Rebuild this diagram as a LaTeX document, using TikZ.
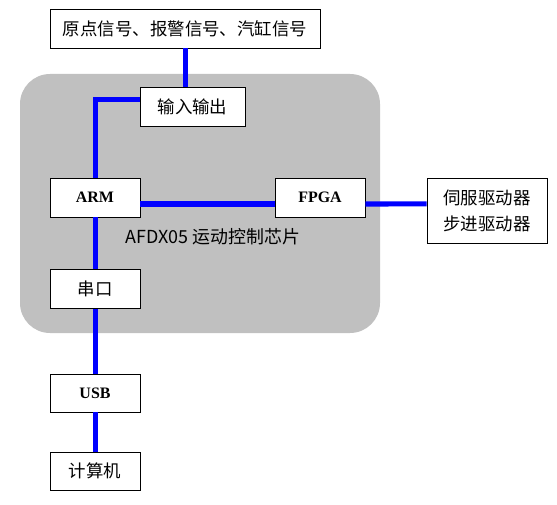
\documentclass[tikz,border=0pt]{standalone}
\usepackage{fontspec}
\setmainfont{Liberation Serif}
\newfontfamily\cjk{Noto Sans CJK SC}
\definecolor{chipgray}{RGB}{192,192,192}
\begin{document}
\begin{tikzpicture}[x=1bp,y=-1bp,main_node/.style={rectangle,draw=black,fill=white,line width=0.8bp,minimum width=90bp,minimum height=39bp,inner sep=2pt,font=\cjk\fontsize{17.5}{26}\selectfont},chip_node/.style={main_node,font=\bfseries\fontsize{16}{18}\selectfont},bus/.style={draw=blue,line width=5bp}]
		
		\useasboundingbox (0,0) rectangle (557,505);
		\fill[chipgray,rounded corners=30bp] (20,74) rectangle (380,333);
		
		\node[main_node,minimum width=270bp] (sig) at (185,28.5) {原点信号、报警信号、汽缸信号};
		\node[main_node,minimum width=105bp] (io) at (192.5,106.5) {输入输出};
		\node[chip_node] (arm) at (95,197.5) {ARM};
		\node[chip_node] (fpga) at (320,197.5) {FPGA};
		\node[main_node,minimum width=120bp,minimum height=65bp,align=center] (drv) at (487,210.5) {伺服驱动器\\步进驱动器};
		\node[main_node] (com) at (95,289) {串口};
		\node[chip_node,minimum height=38bp] (usb) at (95,393) {USB};
		\node[main_node,minimum height=38bp] (pc) at (95,471) {计算机};
		\node[font=\cjk\fontsize{18}{20}\selectfont] (chip) at (213,237) {AFDX05 运动控制芯片};
		
		\draw[bus] (sig.south) -- (sig.south |- io.north);
		\draw[bus] ([yshift=6.5bp]io.west) -| (arm.north);
		\draw[bus] ([yshift=-6.5bp]arm.east) -- ([yshift=-6.5bp]fpga.west);
		\draw[bus] ([yshift=-6.5bp]fpga.east) -- ([yshift=6.5bp]drv.west);
		\draw[bus] (arm) -- (com);
		\draw[bus] (com) -- (usb);
		\draw[bus] (usb) -- (pc);
		\end{tikzpicture}
\end{document}
